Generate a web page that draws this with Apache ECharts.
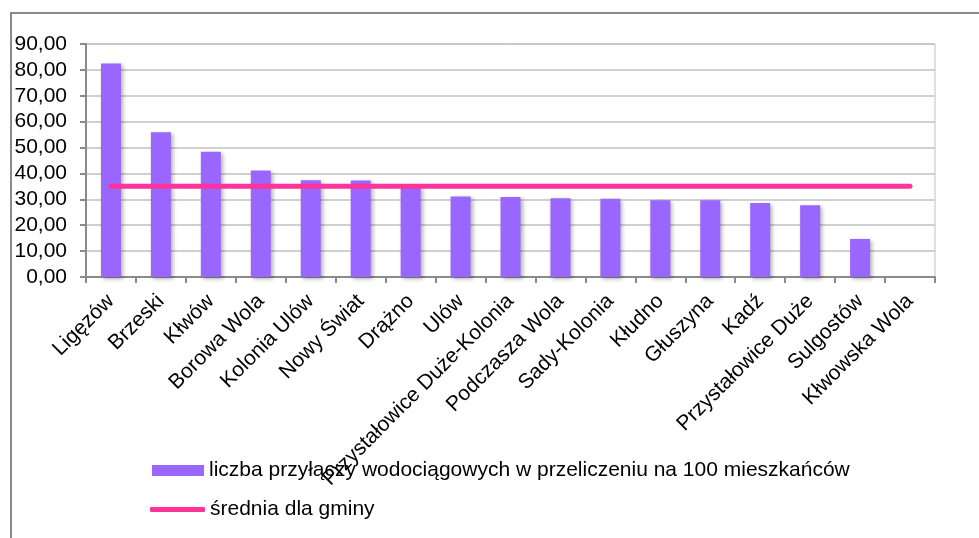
<!DOCTYPE html>
<html>
<head>
<meta charset="utf-8">
<script src="https://cdn.jsdelivr.net/npm/echarts@6/dist/echarts.min.js"></script>
<style>
html,body{margin:0;padding:0;background:#fff;}
#main{width:979px;height:538px;}
</style>
</head>
<body>
<div id="main"></div>
<script>
const categories = ['Ligęzów','Brzeski','Kłwów','Borowa Wola','Kolonia Ulów','Nowy Świat','Drążno','Ulów','Przystałowice Duże-Kolonia','Podczasza Wola','Sady-Kolonia','Kłudno','Głuszyna','Kadź','Przystałowice Duże','Sulgostów','Kłwowska Wola'];
const connections = [82.5, 55.9, 48.4, 41.1, 37.4, 37.3, 35.3, 31.1, 30.9, 30.4, 30.2, 29.6, 29.6, 28.6, 27.7, 14.7, 0];
const average = [35.05, 35.05, 35.05, 35.05, 35.05, 35.05, 35.05, 35.05, 35.05, 35.05, 35.05, 35.05, 35.05, 35.05, 35.05, 35.05, 35.05];
const seriesNames = ['liczba przyłączy wodociągowych w przeliczeniu na 100 mieszkańców', 'średnia dla gminy'];

const FONT = 'Liberation Sans, Arial, sans-serif';
const FS = 21;
const chart = echarts.init(document.getElementById('main'), null, {renderer: 'canvas'});
chart.setOption({
  animation: false,
  backgroundColor: '#ffffff',
  textStyle: {fontFamily: FONT},
  graphic: [{
    type: 'rect', shape: {x: 11, y: 13, width: 1100, height: 700},
    style: {fill: 'none', stroke: '#8a8a8a', lineWidth: 2}, silent: true, z: -1
  }],
  grid: {left: 86, right: 44, top: 44, bottom: 261, show: true, borderColor: '#c0c0c0', borderWidth: 1},
  legend: [{
    data: [seriesNames[0]], orient: 'vertical', left: 152, top: 460, padding: 0,
    itemWidth: 52, itemHeight: 11, itemGap: 10, icon: 'rect',
    textStyle: {fontFamily: FONT, fontSize: FS, color: '#000'}
  }, {
    data: [seriesNames[1]], orient: 'vertical', left: 150, top: 499, padding: 0,
    itemWidth: 55, itemHeight: 5, icon: 'roundRect',
    textStyle: {fontFamily: FONT, fontSize: FS, color: '#000'}
  }],
  xAxis: {
    type: 'category', data: categories, boundaryGap: true,
    axisLine: {lineStyle: {color: '#8a8a8a', width: 2}},
    axisTick: {show: true, length: 6, lineStyle: {color: '#8a8a8a', width: 2}},
    axisLabel: {rotate: 45, interval: 0, margin: 21, fontSize: FS, color: '#000', fontFamily: FONT},
    splitLine: {show: false}
  },
  yAxis: {
    type: 'value', min: 0, max: 90, interval: 10,
    axisLine: {show: true, lineStyle: {color: '#8a8a8a', width: 2}},
    axisTick: {show: true, length: 6, lineStyle: {color: '#8a8a8a', width: 2}},
    axisLabel: {margin: 19, fontSize: FS, color: '#000', fontFamily: FONT,
      formatter: v => v.toFixed(2).replace('.', ',')},
    splitLine: {lineStyle: {color: '#c0c0c0', width: 1.5}}
  },
  series: [{
    name: seriesNames[0], type: 'bar', data: connections, barWidth: 20,
    itemStyle: {color: '#9966ff', shadowBlur: 4, shadowOffsetX: 2, shadowOffsetY: 2, shadowColor: 'rgba(0,0,0,0.3)'}
  }, {
    name: seriesNames[1], type: 'line', data: average, symbol: 'none', showSymbol: false,
    lineStyle: {color: '#ff3399', width: 5, cap: 'round'}, itemStyle: {color: '#ff3399'}, z: 5
  }]
});
</script>
</body>
</html>
